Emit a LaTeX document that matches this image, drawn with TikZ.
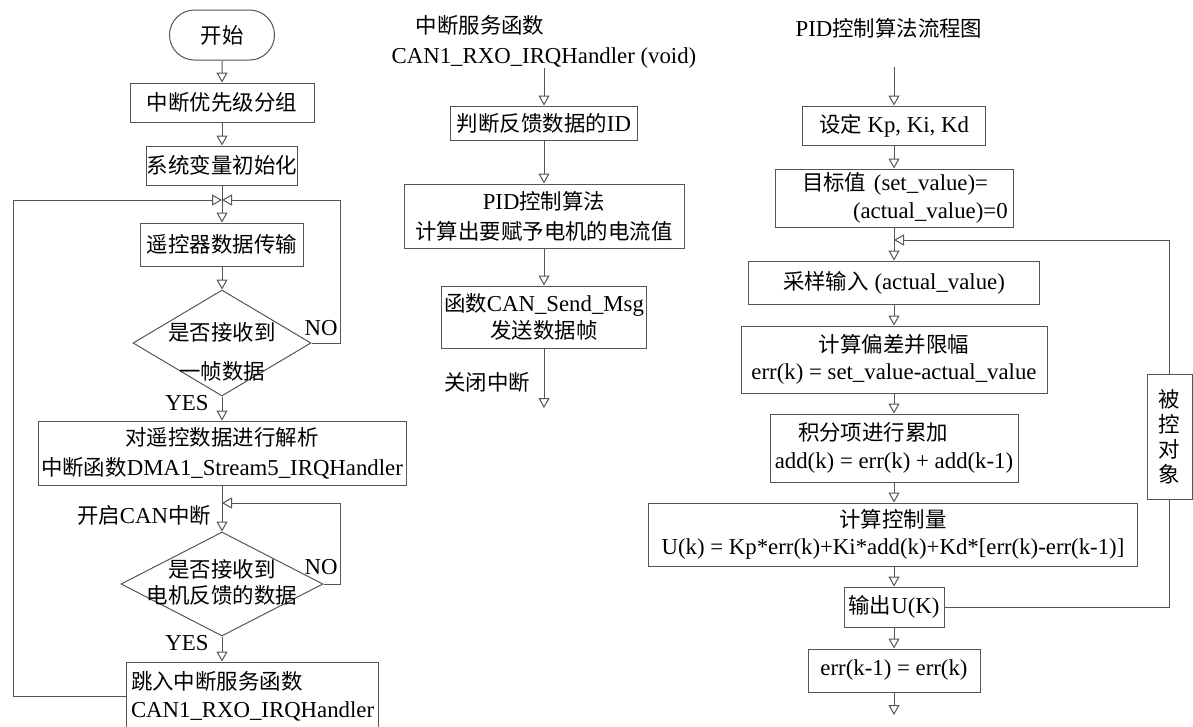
\documentclass[tikz,border=0pt]{standalone}
\usepackage{fontspec}
\setmainfont{Liberation Serif}
\newfontfamily\cjk[Scale=0.94]{Noto Sans CJK SC}
\newcommand\zh[1]{{\cjk #1}}
\usetikzlibrary{arrows.meta,shapes.geometric,shapes.misc}
\definecolor{lc}{RGB}{85,85,85}
\begin{document}
\begin{tikzpicture}[x=1pt,y=-1pt,
  every node/.style={font=\fontsize{22.8}{28}\selectfont, text=black},
  box/.style={draw=lc, line width=1pt, rectangle, inner sep=0pt, align=center},
  arr/.style={draw=lc, line width=1pt, -{Triangle[open,length=10pt,width=11pt]}},
  ln/.style={draw=lc, line width=1pt},
  dia/.style={draw=lc, line width=1pt, diamond, inner sep=0pt},
  term/.style={draw=lc, line width=1pt, rounded rectangle, inner sep=0pt}
]
\useasboundingbox (0,0) rectangle (1193,726);

% ---------- left column ----------
\node[term, minimum width=105pt, minimum height=50pt] (start) at (222,35) {\zh{开始}};
\node[box, minimum width=184pt, minimum height=39pt] (n1) at (222,102.5) {\zh{中断优先级分组}};
\node[box, minimum width=147pt, minimum height=39pt] (n2) at (222,165.5) {\zh{系统变量初始化}};
\coordinate (j1) at (222,200);
\node[box, minimum width=163pt, minimum height=43pt] (n3) at (222,244.5) {\zh{遥控器数据传输}};
\node[dia, minimum width=178pt, minimum height=106pt] (d1) at (222,343) {};
\node[align=center, inner sep=0pt] (d1t) at (222,352) {\zh{是否接收到}\\[11pt]\zh{一帧数据}};
\node[box, minimum width=368pt, minimum height=64pt] (n4) at (222,453) {\zh{对遥控数据进行解析}\\[2pt]\zh{中断函数}DMA1\_Stream5\_IRQHandler};
\coordinate (j2) at (222,503);
\node[dia, minimum width=202pt, minimum height=104pt] (d2) at (222,584) {};
\node[align=center, inner sep=0pt] (d2t) at (222,582) {\zh{是否接收到}\\[-2pt]\zh{电机反馈的数据}};
\node[box, minimum width=252pt, minimum height=68pt, text width=242pt, align=left] (n5) at (252,696) {\zh{跳入中断服务函数}\\CAN1\_RXO\_IRQHandler};

\node (no1) at (321,328) {NO};
\node (yes1) at (187,403) {YES};
\node (can) at (144,515) {\zh{开启}CAN\zh{中断}};
\node (no2) at (321,567) {NO};
\node (yes2) at (187,643) {YES};

\draw[arr] (start) -- (n1);
\draw[arr] (n1) -- (n2);
\draw[arr] (n2) -- (n3);
\draw[arr] (n3) -- (d1);
\draw[arr] (d1) -- (n4);
\draw[arr] (n4) -- (d2);
\draw[arr] (d2.south) -- (d2.south |- n5.north);
\draw[arr] (d1.east) -| (340,200) -- (j1);
\draw[arr] (n5.west) -| (13,200) -- (j1);
\draw[arr] (d2.east) -| (340,503) -- (j2);

% ---------- middle column ----------
\node[align=center, inner sep=0pt] (mt) at (544,42) {\zh{中断服务函数}\hspace*{128pt}\mbox{}\\[2pt]CAN1\_RXO\_IRQHandler (void)};
\coordinate (m0) at (544,68);
\node[box, minimum width=187pt, minimum height=34pt] (m1) at (544,123) {\zh{判断反馈数据的}ID};
\node[box, minimum width=280pt, minimum height=64pt] (m2) at (544,216) {PID\zh{控制算法}\\[2pt]\zh{计算出要赋予电机的电流值}};
\node[box, minimum width=205pt, minimum height=62pt] (m3) at (544,317) {\zh{函数}CAN\_Send\_Msg\\[-1pt]\zh{发送数据帧}};
\coordinate (m4) at (544,408);
\node (close) at (487,382) {\zh{关闭中断}};

\draw[arr] (m0) -- (m1);
\draw[arr] (m1) -- (m2);
\draw[arr] (m2) -- (m3);
\draw[arr] (m3) -- (m4);

% ---------- right column ----------
\node (rt) at (889,28) {PID\zh{控制算法流程图}};
\coordinate (r0) at (894,67);
\node[box, minimum width=183pt, minimum height=39pt] (r1) at (894,125.5) {\zh{设定} Kp, Ki, Kd};
\node[box, minimum width=238pt, minimum height=58pt, text width=230pt, align=left] (r2) at (894,198) {\hspace*{23pt}\zh{目标值} (set\_value)=\\\hspace*{74pt}(actual\_value)=0};
\coordinate (j3) at (894,240);
\node[box, minimum width=291pt, minimum height=43pt] (r3) at (894,282.5) {\zh{采样输入} (actual\_value)};
\node[box, minimum width=306pt, minimum height=67pt] (r4) at (894,359.5) {\zh{计算偏差并限幅}\\[-1pt]err(k) = set\_value-actual\_value};
\node[box, minimum width=248pt, minimum height=68pt] (r5) at (894,448) {\zh{积分项进行累加}\hspace*{42pt}\mbox{}\\add(k) = err(k) + add(k-1)};
\node[box, minimum width=489pt, minimum height=63pt] (r6) at (893,534.5) {\zh{计算控制量}\\[-1pt]U(k) = Kp*err(k)+Ki*add(k)+Kd*[err(k)-err(k-1)]};
\node[box, minimum width=100pt, minimum height=40pt] (r7) at (894,607) {\zh{输出}U(K)};
\node[box, minimum width=172pt, minimum height=43pt] (r8) at (894,670.5) {err(k-1) = err(k)};
\coordinate (r9) at (894,715);
\node[box, minimum width=45pt, minimum height=125pt, font=\fontsize{22.8}{25}\selectfont] (plant) at (1169.5,436.5) {\zh{被}\\\zh{控}\\\zh{对}\\\zh{象}};

\draw[arr] (r0) -- (r1);
\draw[arr] (r1) -- (r2);
\draw[arr] (r2) -- (r3);
\draw[arr] (r3) -- (r4);
\draw[arr] (r4) -- (r5);
\draw[arr] (r5) -- (r5 |- r6.north);
\draw[arr] (r6.south -| r5) -- (r7);
\draw[arr] (r7) -- (r8);
\draw[arr] (r8) -- (r9);
\draw[ln] (r7.east) -| (plant.south);
\draw[arr] (plant.north) |- (j3);
\end{tikzpicture}
\end{document}
